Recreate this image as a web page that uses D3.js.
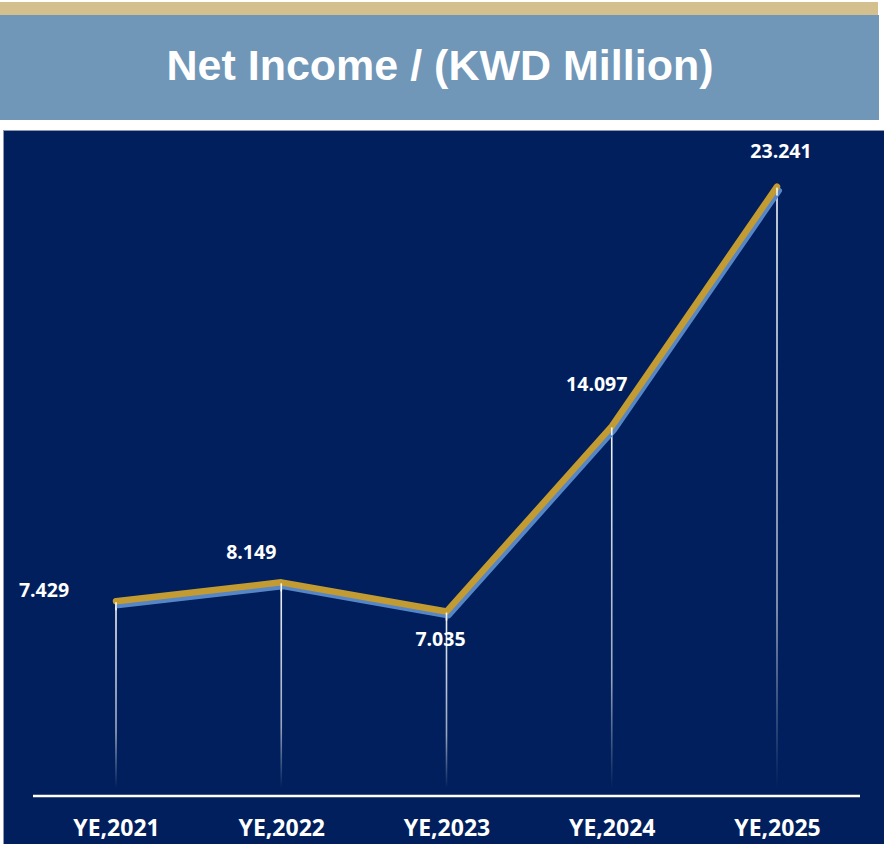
<!DOCTYPE html>
<html>
<head>
<meta charset="utf-8">
<script src="https://cdn.jsdelivr.net/npm/d3@7"></script>
<style>
  body { margin: 0; background: #fff; }
  svg { display: block; }
</style>
</head>
<body>
<svg width="884" height="844"></svg>
<script>
const svg = d3.select('svg');

const width = +svg.attr('width');
const height = +svg.attr('height');

// data
const years = ['YE,2021', 'YE,2022', 'YE,2023', 'YE,2024', 'YE,2025'];
const netIncome = [7.429, 8.149, 7.035, 14.097, 23.241];
const valueLabels = ['7.429', '8.149', '7.035', '14.097', '23.241'];

// where each value label sits relative to its point (dx, dy of baseline)
const labelOffsets = [[-72, -4], [-30, -23], [-6, 34], [-15, -35], [4, -29]];

const data = years.map((y, i) => ({ year: y, value: netIncome[i], label: valueLabels[i], off: labelOffsets[i] }));

// header
svg.append('rect')
    .attr('x', 0).attr('y', 2)
    .attr('width', 878).attr('height', 13)
    .attr('fill', '#d4bf8e');

svg.append('rect')
    .attr('x', 0).attr('y', 15)
    .attr('width', 879).attr('height', 105)
    .attr('fill', '#7096b8');

svg.append('text')
    .attr('x', 440).attr('y', 80)
    .attr('text-anchor', 'middle')
    .attr('fill', '#fff')
    .style('font-family', '"Liberation Sans", Arial, sans-serif')
    .style('font-weight', 700)
    .style('font-size', '43px')
    .text('Net Income / (KWD Million)');

// chart panel
svg.append('rect')
    .attr('x', 3.5).attr('y', 130.5)
    .attr('width', width).attr('height', height)
    .attr('fill', '#001f5c')
    .attr('stroke', '#8c97b3')
    .attr('stroke-width', 1);

const xScale = d3.scalePoint()
    .domain(years)
    .range([116, 777]);

const yScale = d3.scaleLinear()
    .domain([0, 25])
    .range([796, 140.5]);

// fading gradient for drop lines
const defs = svg.append('defs');
const grad = defs.append('linearGradient')
    .attr('id', 'drop')
    .attr('x1', 0).attr('y1', 0).attr('x2', 0).attr('y2', 1);
grad.append('stop').attr('offset', '0%').attr('stop-color', '#fff').attr('stop-opacity', 0.95);
grad.append('stop').attr('offset', '70%').attr('stop-color', '#fff').attr('stop-opacity', 0.6);
grad.append('stop').attr('offset', '100%').attr('stop-color', '#fff').attr('stop-opacity', 0);

svg.selectAll('rect.drop').data(data)
    .enter().append('rect')
    .attr('class', 'drop')
    .attr('x', d => xScale(d.year) - 0.8)
    .attr('y', d => yScale(d.value))
    .attr('width', 1.6)
    .attr('height', d => yScale(0) - yScale(d.value) - 8)
    .attr('fill', 'url(#drop)');

// line with blue shadow
const line = d3.line()
    .x(d => xScale(d.year))
    .y(d => yScale(d.value));

svg.append('path')
    .datum(data)
    .attr('d', line)
    .attr('transform', 'translate(2,4)')
    .attr('fill', 'none')
    .attr('stroke', '#5686c6')
    .attr('stroke-width', 6)
    .attr('stroke-linejoin', 'round')
    .attr('stroke-linecap', 'round');

svg.append('path')
    .datum(data)
    .attr('d', line)
    .attr('fill', 'none')
    .attr('stroke', '#c39b33')
    .attr('stroke-width', 6.5)
    .attr('stroke-linejoin', 'round')
    .attr('stroke-linecap', 'round');

// redraw top part of drop lines over the line, as in the original
svg.selectAll('rect.droptop').data(data)
    .enter().append('rect')
    .attr('class', 'droptop')
    .attr('x', d => xScale(d.year) - 0.8)
    .attr('y', d => yScale(d.value) + 1)
    .attr('width', 1.6)
    .attr('height', 8)
    .attr('fill', '#fff')
    .attr('opacity', 0.9);

// axis
const axis = svg.append('g')
    .attr('transform', `translate(0, ${yScale(0)})`)
    .call(d3.axisBottom(xScale).tickSize(0).tickPadding(40));

axis.select('.domain').remove();
axis.append('line')
    .attr('x1', 33).attr('x2', 860)
    .attr('stroke', '#fff')
    .attr('stroke-width', 2.6);

axis.selectAll('.tick text')
    .attr('fill', '#fff')
    .attr('y', 40)
    .attr('dy', 0)
    .style('font-family', '"Open Sans", sans-serif')
    .style('font-weight', 700)
    .style('font-size', '23px');

// value labels
svg.selectAll('text.val').data(data)
    .enter().append('text')
    .attr('class', 'val')
    .attr('x', d => xScale(d.year) + d.off[0])
    .attr('y', d => yScale(d.value) + d.off[1])
    .attr('text-anchor', 'middle')
    .attr('fill', '#fff')
    .style('font-family', '"Open Sans", sans-serif')
    .style('font-weight', 700)
    .style('font-size', '19.5px')
    .text(d => d.label);
</script>
</body>
</html>
